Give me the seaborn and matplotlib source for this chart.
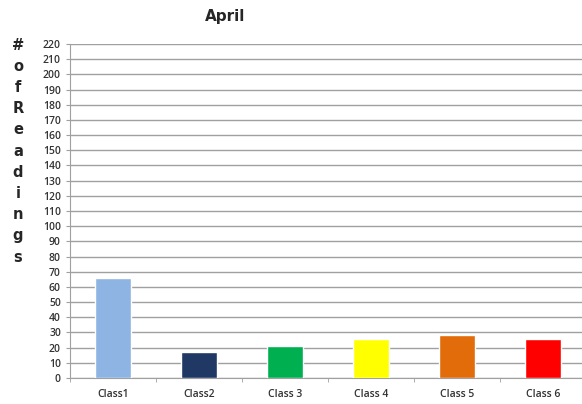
import matplotlib
matplotlib.use("Agg")
import matplotlib.pyplot as plt
import seaborn as sns
import pandas as pd

categories = ["Class1", "Class2", "Class 3", "Class 4", "Class 5", "Class 6"]
values = [66, 17, 21, 26, 28, 26]
colors = ["#8DB4E2", "#1F3864", "#00B050", "#FFFF00", "#E26B0A", "#FF0000"]
title = "April"
ylabel = "# o f R e a d i n g s"

sns.set_style("white")
plt.rcParams['font.family'] = ['Open Sans', 'DejaVu Sans']

df = pd.DataFrame({"cat": categories, "val": values})

fig = plt.figure(figsize=(5.82, 4.04), dpi=100)
ax = fig.add_axes([70/582, 1 - 378/404, 516/582, 334/404])

sns.barplot(data=df, x="cat", y="val", hue="cat", palette=colors, legend=False,
            width=0.42, ax=ax, saturation=1, zorder=3)

ax.set_ylim(0, 220)
ax.set_yticks(range(0, 221, 10))
ax.set_xlim(-0.5, 5.5)
ax.yaxis.grid(True, color="#A0A0A0", linewidth=1, zorder=0)
ax.set_axisbelow(True)
for s in ["top", "right"]:
    ax.spines[s].set_visible(False)
ax.spines["left"].set_color("#A0A0A0")
ax.spines["bottom"].set_color("#A0A0A0")
ax.set_xlabel("")
ax.set_ylabel("")
ax.tick_params(axis="y", labelsize=7.5, length=3, left=True, width=0.8,
               colors="#A0A0A0", labelcolor="#333333")
ax.tick_params(axis="x", labelsize=7.5, labelcolor="#333333", length=0, pad=8)
for lab in ax.get_xticklabels() + ax.get_yticklabels():
    lab.set_fontweight("semibold")
ax.set_xticks([i + 0.5 for i in range(-1, 6)], minor=True)
ax.tick_params(axis="x", which="minor", length=3, color="#A0A0A0", bottom=True)

fig.text(225/582, 1 - 17/404, title, ha="center", va="center", fontsize=11, fontweight="bold",
         family=["DejaVu Sans"])

letters = ylabel.split(" ")
for i, ch in enumerate(letters):
    fig.text(18/582, 1 - (45 + i * 21.2)/404, ch, ha="center", va="center", fontsize=10.5,
             fontweight="bold", family=["DejaVu Sans"])

fig.savefig("out.png", dpi=100)
